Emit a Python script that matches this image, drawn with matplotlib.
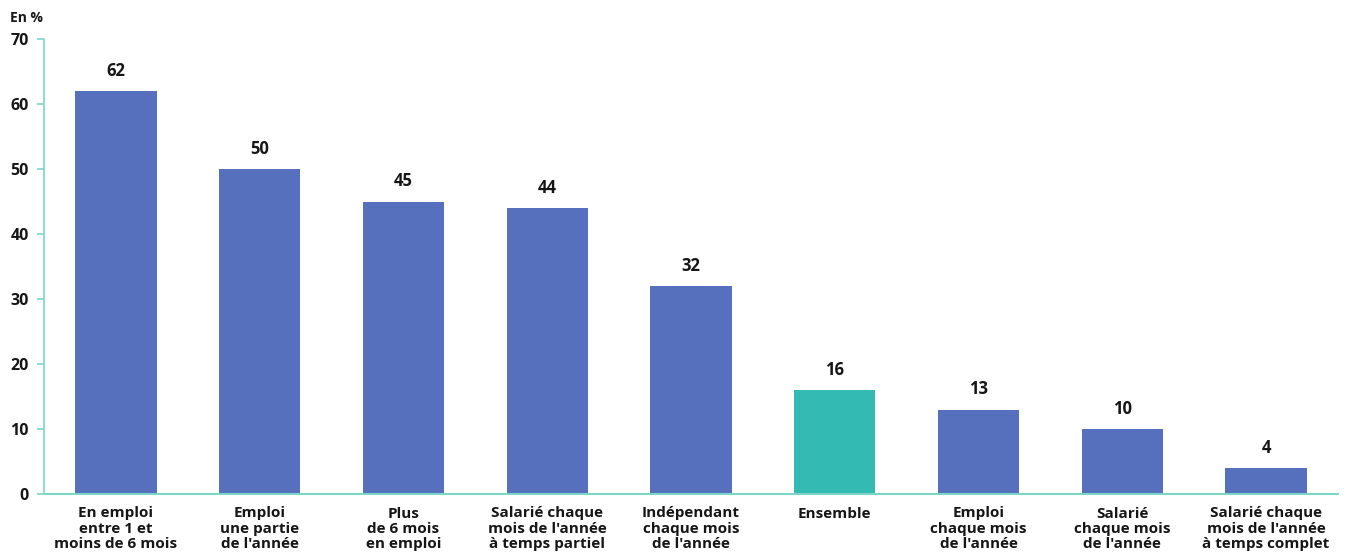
import matplotlib
matplotlib.use("Agg")
import matplotlib.pyplot as plt

categories = [
    "En emploi\nentre 1 et\nmoins de 6 mois",
    "Emploi\nune partie\nde l'année",
    "Plus\nde 6 mois\nen emploi",
    "Salarié chaque\nmois de l'année\nà temps partiel",
    "Indépendant\nchaque mois\nde l'année",
    "Ensemble",
    "Emploi\nchaque mois\nde l'année",
    "Salarié\nchaque mois\nde l'année",
    "Salarié chaque\nmois de l'année\nà temps complet",
]
values = [62, 50, 45, 44, 32, 16, 13, 10, 4]
highlight = "Ensemble"

blue = "#5670be"
teal = "#33bbb3"
axis_col = "#7dd5c8"

plt.rcParams["font.family"] = ["Open Sans", "DejaVu Sans"]

fig = plt.figure(figsize=(13.48, 5.54), dpi=100)
ax = fig.add_axes([44 / 1348, 60 / 554, 1294 / 1348, 455 / 554])

colors = [teal if c == highlight else blue for c in categories]
x = range(len(categories))
bars = ax.bar(x, values, width=0.565, color=colors, zorder=2)

for b, v in zip(bars, values):
    ax.text(b.get_x() + b.get_width() / 2, v + 1.7, str(v), ha="center", va="bottom",
            fontsize=12, fontweight="bold", color="#161616")

ax.set_xlim(-0.5, 8.5)
ax.set_ylim(0, 70)
ax.set_yticks(range(0, 71, 10))
ax.set_xticks(list(x))
ax.set_xticklabels(categories, fontsize=11, fontweight="bold", color="#161616", linespacing=1.12)

for s in ["top", "right"]:
    ax.spines[s].set_visible(False)
ax.spines["left"].set_color(axis_col)
ax.spines["bottom"].set_color(axis_col)
ax.spines["left"].set_linewidth(1.2)
ax.spines["bottom"].set_linewidth(1.5)
ax.tick_params(axis="y", colors=axis_col, length=5, width=1.2, labelsize=11.5, labelcolor="#161616", pad=6)
ax.tick_params(axis="x", length=0, pad=9)
for lab in ax.get_yticklabels():
    lab.set_fontweight("bold")

fig.text(10 / 1348, 1 - 18 / 554, "En %", fontsize=10, fontweight="bold", color="#161616", va="center")

fig.savefig("out.png", dpi=100)
